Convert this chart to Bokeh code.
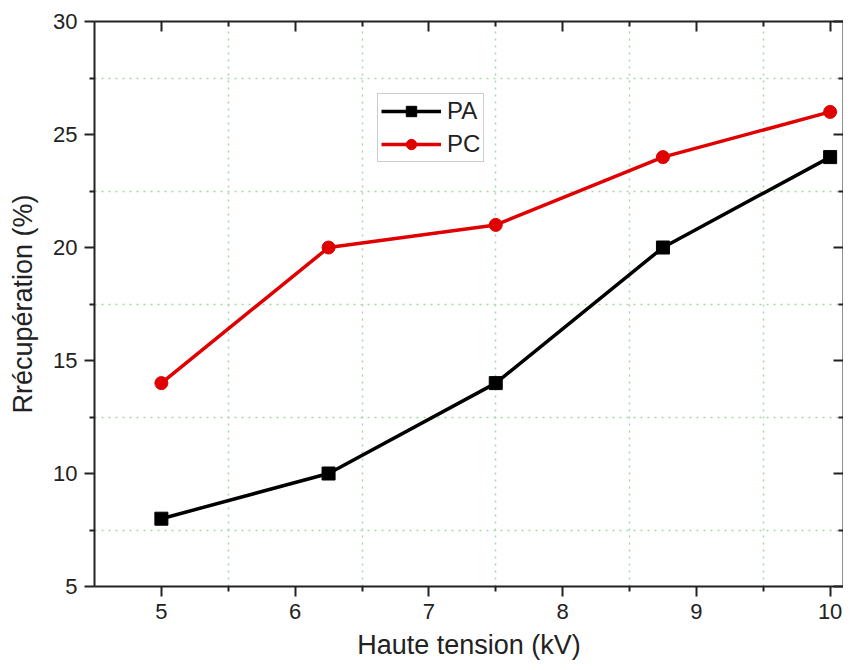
from bokeh.plotting import figure
from bokeh.models import LinearAxis, FixedTicker, Range1d, Legend, LegendItem
from bokeh.embed import file_html
from bokeh.resources import INLINE

# Data
voltage = [5, 6.25, 7.5, 8.75, 10]
pa = [8, 10, 14, 20, 24]
pc = [14, 20, 21, 24, 26]

x_ticks = [5, 6, 7, 8, 9, 10]
x_minor = [5.5, 6.5, 7.5, 8.5, 9.5]
y_ticks = [5, 10, 15, 20, 25, 30]
y_minor = [7.5, 12.5, 17.5, 22.5, 27.5]

FONT = "Liberation Sans"
RED = "#e00000"

p = figure(width=843, height=662, x_range=Range1d(4.5, 10.1), y_range=Range1d(5, 30),
           output_backend="svg", toolbar_location=None,
           min_border_left=94, min_border_top=21, min_border_right=0, min_border_bottom=75)
p.outline_line_color = None

xt = FixedTicker(ticks=x_ticks, minor_ticks=x_minor)
yt = FixedTicker(ticks=y_ticks, minor_ticks=y_minor)

def style_axis(ax, ticker, labels=True):
    ax.ticker = ticker
    ax.axis_line_width = 2
    ax.axis_line_color = "#222222"
    ax.major_tick_line_width = 2
    ax.minor_tick_line_width = 2
    ax.major_tick_line_color = "#222222"
    ax.minor_tick_line_color = "#222222"
    if labels:
        ax.major_tick_out = 10
        ax.major_tick_in = 0
        ax.minor_tick_out = 5
        ax.minor_tick_in = 0
        ax.major_label_text_font = FONT
        ax.major_label_text_font_size = "22px"
        ax.major_label_text_color = "#222222"
        ax.axis_label_text_font = FONT
        ax.axis_label_text_font_size = "27px"
        ax.axis_label_text_font_style = "normal"
        ax.axis_label_text_color = "#222222"
    else:
        ax.major_tick_out = 0
        ax.major_tick_in = 10
        ax.minor_tick_out = 0
        ax.minor_tick_in = 5
        ax.major_label_text_font_size = "1px"
        ax.major_label_text_color = None
        ax.major_label_standoff = 0

style_axis(p.xaxis[0], xt)
style_axis(p.yaxis[0], yt)
p.xaxis.axis_label = "Haute tension (kV)"
p.yaxis.axis_label = "Rrécupération (%)"
p.xaxis.major_label_standoff = 7
p.yaxis.major_label_standoff = 7
p.xaxis.axis_label_standoff = 8
p.yaxis.axis_label_standoff = 12

top = LinearAxis()
style_axis(top, xt, labels=False)
p.add_layout(top, "above")
right = LinearAxis()
style_axis(right, yt, labels=False)
p.add_layout(right, "right")

for g, t in ((p.xgrid[0], xt), (p.ygrid[0], yt)):
    g.ticker = t
    g.grid_line_color = None
    g.minor_grid_line_color = "#a6d8a6"
    g.minor_grid_line_width = 1.5
    g.minor_grid_line_dash = "2 5"

l1 = p.line(voltage, pa, line_color="black", line_width=3.5)
s1 = p.scatter(voltage, pa, marker="square", size=13, fill_color="black", line_color="black")
l2 = p.line(voltage, pc, line_color=RED, line_width=3.5)
s2 = p.scatter(voltage, pc, marker="circle", size=13, fill_color=RED, line_color=RED)

legend = Legend(items=[LegendItem(label="PA", renderers=[l1, s1]),
                       LegendItem(label="PC", renderers=[l2, s2])],
                location=(283, 424), orientation="vertical")
legend.label_text_font = FONT
legend.label_text_font_size = "24px"
legend.label_text_color = "#222222"
legend.glyph_width = 60
legend.glyph_height = 26
legend.label_height = 26
legend.label_standoff = 6
legend.spacing = 5
legend.padding = 3
legend.margin = 0
legend.border_line_color = "#999999"
legend.border_line_width = 1
legend.background_fill_color = "white"
legend.background_fill_alpha = 1
p.add_layout(legend)

open("out.html", "w").write(file_html(p, INLINE))
